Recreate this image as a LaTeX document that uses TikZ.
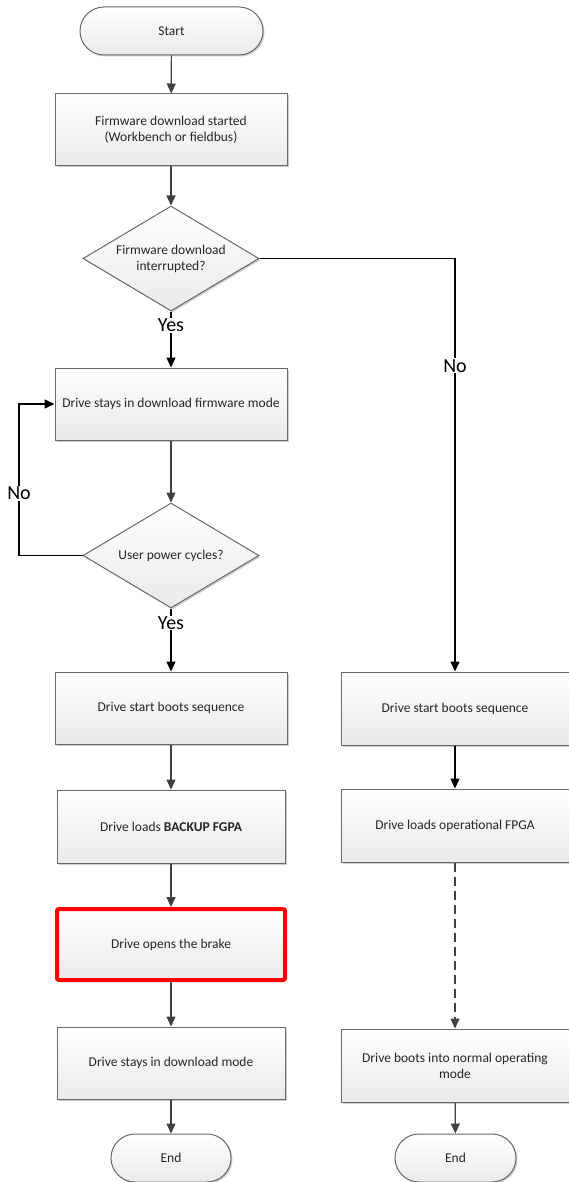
\documentclass[tikz,border=0pt]{standalone}
\usepackage{fontspec}
\setmainfont{Carlito}
\usetikzlibrary{shapes.geometric, arrows.meta, shadows}
\definecolor{boxline}{RGB}{105,105,105}
\definecolor{arrowgray}{RGB}{64,64,64}
\definecolor{boxfill}{RGB}{234,234,234}

\begin{document}
\begin{tikzpicture}[
    x=1pt, y=-1pt,
    every node/.style={font=\fontsize{13.5}{16}\selectfont, text=black!85},
    procbox/.style={draw=boxline, line width=1pt, top color=white, bottom color=boxfill,
        minimum width=232pt, minimum height=72pt, align=center, inner sep=2pt,
        drop shadow={shadow xshift=1.5pt, shadow yshift=-1.5pt, opacity=0.2, fill=black}},
    alertbox/.style={procbox, draw=red, line width=4pt, rounded corners=2pt,
        minimum width=228pt, minimum height=71pt},
    terminal/.style={procbox, rounded corners=24pt, minimum height=48pt},
    decision/.style={procbox, diamond, aspect=1.68, minimum width=176pt,
        minimum height=105pt, inner sep=0pt},
    flow/.style={draw=arrowgray, line width=1.2pt, -{Triangle[length=10pt, width=9pt]}},
    branch/.style={draw=black, line width=1.4pt, -{Triangle[length=10pt, width=9pt]}},
    answer/.style={font=\fontsize{20}{24}\selectfont, text=black, fill=white, inner sep=1pt}
]
    \useasboundingbox (0,0) rectangle (569,1182);

    % Left column: download path
    \node[terminal, minimum width=183pt] (start) at (171.5,31) {Start};
    \node[procbox] (dlstart) at (171,130) {Firmware download started\\(Workbench or fieldbus)};
    \node[decision] (interrupted) at (171,258.5) {Firmware download\\interrupted?};
    \node[procbox] (dlmode) at (171,404) {Drive stays in download firmware mode};
    \node[decision] (powercycle) at (171,555.5) {User power cycles?};
    \node[procbox] (bootL) at (171,708) {Drive start boots sequence};
    \node[procbox, minimum width=228pt, minimum height=73pt] (backup) at (171,826.5) {Drive loads \textbf{BACKUP FGPA}};
    \node[alertbox] (brake) at (171,944.5) {Drive opens the brake};
    \node[procbox, minimum width=228pt] (staymode) at (171,1063) {Drive stays in download mode};
    \node[terminal, minimum width=120pt] (endL) at (171,1158) {End};

    % Right column: normal boot
    \node[procbox, minimum width=228pt, minimum height=73pt] (bootR) at (455,708.5) {Drive start boots sequence};
    \node[procbox, minimum width=228pt, minimum height=73pt] (operational) at (455,825.5) {Drive loads operational FPGA};
    \node[procbox, minimum width=228pt, minimum height=73pt] (normal) at (455,1065.5) {Drive boots into normal operating\\mode};
    \node[terminal, minimum width=121pt] (endR) at (455.5,1158) {End};

    % Corner points of the elbow connectors
    \coordinate (noR) at (455,258.5);
    \coordinate (noLlow) at (19,555.5);
    \coordinate (noLhigh) at (19,404);

    % Connectors
    \draw[flow] (start) -- (dlstart);
    \draw[flow] (dlstart) -- (interrupted);
    \draw[branch] (interrupted) -- node[answer, pos=0.25] {Yes} (dlmode);
    \draw[branch] (interrupted.east) -- (noR) -- node[answer, pos=0.26] {No} (bootR.north);
    \draw[flow] (dlmode) -- (powercycle);
    \draw[branch] (powercycle.west) -- (noLlow) -- node[answer, pos=0.41] {No} (noLhigh) -- (dlmode.west);
    \draw[branch] (powercycle) -- node[answer, pos=0.23] {Yes} (bootL);
    \draw[flow] (bootL) -- (backup);
    \draw[flow] (backup) -- (brake);
    \draw[flow] (brake) -- (staymode);
    \draw[flow] (staymode) -- (endL);
    \draw[branch] (bootR) -- (operational);
    \draw[flow, dashed, dash pattern=on 9pt off 5pt] (operational) -- (normal);
    \draw[flow] (normal) -- (endR);
\end{tikzpicture}
\end{document}
